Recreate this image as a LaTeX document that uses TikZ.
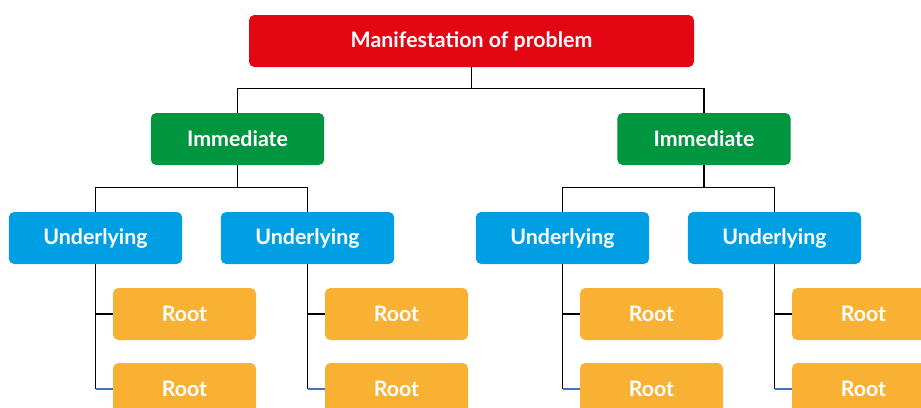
\documentclass[tikz,border=0pt]{standalone}
\usepackage{fontspec}
\setmainfont{Lato}
\definecolor{probred}{HTML}{E30613}
\definecolor{immgreen}{HTML}{009640}
\definecolor{undblue}{HTML}{009FE3}
\definecolor{rootorange}{HTML}{F8B133}
\definecolor{linkblue}{HTML}{4472C4}

\begin{document}
\begin{tikzpicture}[x = 0.75pt, y = -0.75pt,
box/.style = {rounded corners = 4pt, text = white, inner sep = 0pt,
  font = \fontsize{16}{19}\selectfont\bfseries, minimum height = 39pt},
top/.style = {box, fill = probred, minimum width = 333.75pt},
imm/.style = {box, fill = immgreen, minimum width = 130pt},
und/.style = {box, fill = undblue, minimum width = 130pt},
root/.style = {box, fill = rootorange, minimum width = 107.25pt},
link/.style = {line width = 0.8pt}]
\useasboundingbox (0,0) rectangle (921,407);
% boxes
\node[top] (p) at (471.5, 41) {Manifestation of problem};
\node[imm] (i1) at (237.5, 139) {Immediate};
\node[imm] (i2) at (704, 139) {Immediate};
\node[und] (u1) at (95.5, 238) {Underlying};
\node[und] (u2) at (307.5, 238) {Underlying};
\node[und] (u3) at (562.5, 238) {Underlying};
\node[und] (u4) at (774.5, 238) {Underlying};
\node[root] (r1) at (184.5, 314) {Root};
\node[root] (r2) at (184.5, 389) {Root};
\node[root] (r3) at (396.5, 314) {Root};
\node[root] (r4) at (396.5, 389) {Root};
\node[root] (r5) at (651.5, 314) {Root};
\node[root] (r6) at (651.5, 389) {Root};
\node[root] (r7) at (863.5, 314) {Root};
\node[root] (r8) at (863.5, 389) {Root};
% connectors
\draw[link] (p.south) -- ++(0, 21) -| (i1.north);
\draw[link] (p.south) -- ++(0, 21) -| (i2.north);
\draw[link] (i1.south) -- ++(0, 22) -| (u1.north);
\draw[link] (i1.south) -- ++(0, 22) -| (u2.north);
\draw[link] (i2.south) -- ++(0, 22) -| (u3.north);
\draw[link] (i2.south) -- ++(0, 22) -| (u4.north);
\draw[link] (u1.south) |- (r1.west);
\draw[link] (u2.south) |- (r3.west);
\draw[link] (u3.south) |- (r5.west);
\draw[link] (u4.south) |- (r7.west);
\draw[link] (u1.south) -- (u1.south |- r2.west);
\draw[link] (u2.south) -- (u2.south |- r4.west);
\draw[link] (u3.south) -- (u3.south |- r6.west);
\draw[link] (u4.south) -- (u4.south |- r8.west);
\draw[link, linkblue] (u1.south |- r2.west) -- (r2.west);
\draw[link, linkblue] (u2.south |- r4.west) -- (r4.west);
\draw[link, linkblue] (u3.south |- r6.west) -- (r6.west);
\draw[link, linkblue] (u4.south |- r8.west) -- (r8.west);
\end{tikzpicture}
\end{document}
